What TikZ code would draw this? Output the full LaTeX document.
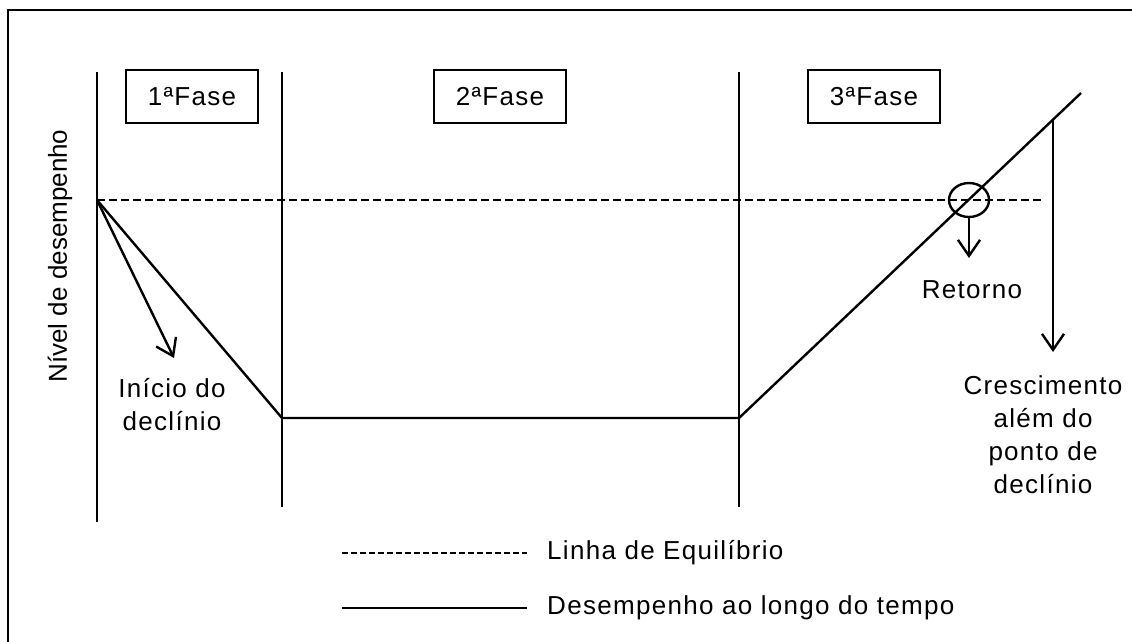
\documentclass[tikz,border=0pt]{standalone}
\usepackage{fontspec}
\newfontfamily\lab{Liberation Sans}[LetterSpace=5]
\newfontfamily\labv{Liberation Sans}
\usetikzlibrary{arrows.meta,shapes.geometric}
\tikzset{
  px/.style={x=1pt,y=-1pt},
  frame/.style={line width=2.4pt},
  phaseline/.style={line width=2.4pt},
  perf/.style={line width=2.4pt,line join=miter},
  equil/.style={line width=2.2pt,dash pattern=on 8pt off 4pt},
  phasebox/.style={draw,line width=1.2pt,minimum width=132pt,minimum height=53pt,inner sep=0pt,font=\lab\fontsize{26}{30}\selectfont},
  lbl/.style={inner sep=0pt,font=\lab\fontsize{26}{33}\selectfont,align=center},
  pointer/.style={line width=2.4pt,-{Straight Barb[length=16pt,width=22pt,line width=2.4pt]}},
}
\begin{document}
\begin{tikzpicture}[px]
\useasboundingbox (0,0) rectangle (1132,641);
\clip (0,0) rectangle (1132,641);
\fill[white] (0,0) rectangle (1132,641);
\draw[frame] (8,10) rectangle (1150,660);
% phase separators
\coordinate (v1t) at (97,72);  \coordinate (v1b) at (97,522);
\coordinate (v2t) at (282,72); \coordinate (v2b) at (282,507);
\coordinate (v3t) at (739,72); \coordinate (v3b) at (739,507);
\draw[phaseline] (v1t) -- (v1b);
\draw[phaseline] (v2t) -- (v2b);
\draw[phaseline] (v3t) -- (v3b);
% phase boxes
\node[phasebox] (f1) at (192,96.5) {1ªFase};
\node[phasebox] (f2) at (500,96.5) {2ªFase};
\node[phasebox] (f3) at (874,96.5) {3ªFase};
% equilibrium line
\coordinate (e0) at (97,200);
\coordinate (e1) at (1043,200);
\draw[equil] (e0) -- (e1);
% performance line
\coordinate (p1) at (282,418);
\coordinate (p2) at (739,418);
\coordinate (p3) at (1081,93);
\draw[perf] (e0) -- (p1) -- (p2) -- (p3);
% return ring
\node[draw,line width=2.4pt,ellipse,minimum width=40pt,minimum height=34pt,inner sep=0pt] (ring) at (969,200) {};
\coordinate (rtip) at (969,258);
\draw[pointer] (ring.south) -- (rtip);
\node[lbl] (ret) at (972,290) {Retorno};
% decline arrow
\coordinate (dtip) at (174,358);
\draw[pointer] (e0) -- (dtip);
\node[lbl] (ini) at (172,405) {Início do\\declínio};
% growth arrow
\coordinate (gtop) at (1053,120);
\coordinate (gtip) at (1053,352);
\draw[pointer] (gtop) -- (gtip);
\node[lbl] (cres) at (1043,435) {Crescimento\\além do\\ponto de\\declínio};
% axis label
\node[inner sep=0pt,rotate=90,font=\labv\fontsize{26}{30}\selectfont] (ylab) at (60,256) {Nível de desempenho};
% legend
\coordinate (l1a) at (342,553); \coordinate (l1b) at (527,553);
\coordinate (l2a) at (342,608); \coordinate (l2b) at (527,608);
\draw[line width=2.2pt,dash pattern=on 6pt off 3pt] (l1a) -- (l1b);
\draw[line width=2.4pt] (l2a) -- (l2b);
\node[lbl,anchor=west] (leg1) at (547,553) {Linha de Equilíbrio};
\node[lbl,anchor=west] (leg2) at (547,608) {Desempenho ao longo do tempo};
\end{tikzpicture}
\end{document}
